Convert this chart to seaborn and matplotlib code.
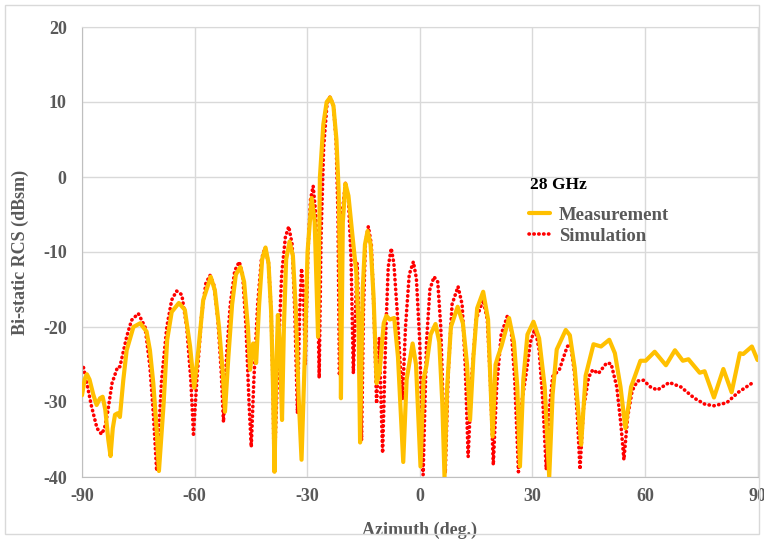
import numpy as np
import pandas as pd
import matplotlib
matplotlib.use("Agg")
import matplotlib.pyplot as plt
import seaborn as sns
from matplotlib.patches import Rectangle

meas_az = [-90.0, -89.3, -88.7, -88.0, -87.0, -86.1, -85.2, -84.5, -83.8, -83.0,
           -82.4, -81.8, -81.2, -80.5, -79.9, -79.0, -78.1, -76.3, -74.5, -72.8,
           -71.9, -71.0, -70.1, -69.5, -68.3, -67.3, -66.1, -64.2, -62.6, -61.2,
           -60.1, -59.0, -57.7, -55.7, -54.6, -53.5, -52.5, -51.9, -51.0, -50.0,
           -49.0, -47.8, -46.8, -45.8, -45.2, -44.4, -43.6, -42.8, -42.0, -41.1,
           -40.3, -39.6, -39.1, -38.7, -38.2, -37.8, -37.3, -36.7, -36.2, -35.6,
           -34.7, -33.8, -33.0, -32.3, -31.5, -30.7, -29.9, -28.8, -28.0, -27.1,
           -26.6, -25.7, -24.8, -23.9, -23.0, -22.2, -21.6, -21.2, -21.0, -20.5,
           -19.8, -19.0, -18.0, -16.9, -16.3, -15.9, -15.2, -14.6, -13.9, -13.1,
           -12.3, -11.5, -10.7, -9.6, -8.9, -8.0, -6.8, -5.8, -4.4, -3.5,
           -1.9, -1.0, 0.2, 1.0, 1.8, 2.9, 4.2, 5.2, 6.0, 6.6,
           7.3, 8.3, 10.1, 11.5, 12.6, 13.4, 14.3, 15.3, 16.9, 18.2,
           19.4, 20.2, 20.8, 21.8, 23.8, 25.1, 26.0, 26.7, 27.6, 28.7,
           30.3, 31.8, 33.3, 34.5, 35.4, 36.5, 38.9, 40.0, 41.3, 43.0,
           44.2, 46.3, 48.3, 50.5, 52.0, 53.5, 54.8, 56.3, 58.8, 60.2,
           62.6, 65.6, 68.0, 70.1, 71.6, 74.6, 75.9, 78.4, 80.9, 83.1,
           85.3, 86.2, 88.5, 90.0]
meas_db = [-29.1, -27.0, -26.3, -27.0, -29.0, -30.4, -29.5, -29.3, -31.0, -35.0,
           -37.2, -33.5, -31.7, -31.5, -32.0, -27.1, -23.1, -20.0, -19.5, -20.6,
           -23.1, -27.5, -33.7, -39.2, -30.6, -21.7, -18.0, -16.8, -17.7, -22.6,
           -28.1, -23.1, -16.4, -13.3, -15.1, -20.0, -26.0, -31.3, -24.0, -17.0,
           -13.0, -12.0, -14.0, -20.0, -25.7, -22.2, -24.8, -17.0, -11.0, -9.4,
           -11.5, -18.0, -28.0, -39.3, -25.0, -18.4, -22.0, -32.4, -20.0, -11.0,
           -8.6, -10.5, -18.0, -29.0, -37.7, -25.0, -10.0, -2.8, -6.0, -21.3,
           0.0, 7.0, 10.0, 10.6, 9.5, 5.0, -2.0, -15.0, -29.5, -6.0,
           -0.9, -2.5, -7.5, -12.8, -20.0, -35.4, -15.0, -9.0, -7.2, -9.0,
           -16.0, -27.5, -26.0, -19.5, -18.5, -19.0, -18.8, -24.0, -38.0, -27.0,
           -22.2, -25.0, -38.6, -27.0, -25.1, -21.0, -19.6, -22.0, -30.0, -40.0,
           -28.0, -20.0, -17.3, -19.5, -25.0, -32.4, -24.0, -17.5, -15.3, -19.0,
           -34.6, -25.0, -24.0, -22.5, -18.8, -22.0, -28.0, -38.6, -27.0, -21.0,
           -19.3, -21.5, -28.0, -40.0, -29.0, -23.0, -20.4, -21.1, -25.5, -35.7,
           -26.5, -22.3, -22.6, -21.7, -23.5, -28.0, -33.5, -28.0, -24.5, -24.5,
           -23.3, -25.1, -23.1, -24.5, -24.3, -26.1, -25.9, -29.4, -25.6, -28.7,
           -23.5, -23.6, -22.6, -24.4]

# Simulation trace
sim_az = [-89.6, -88.7, -87.5, -86.0, -84.8, -84.0, -83.2, -82.0, -80.5, -79.9,
          -78.1, -76.8, -75.0, -73.2, -71.9, -71.0, -70.1, -68.8, -67.4, -66.1,
          -64.8, -63.4, -62.1, -61.0, -60.3, -59.4, -58.1, -57.0, -55.9, -54.8,
          -53.8, -52.9, -52.3, -51.5, -50.5, -49.3, -48.1, -47.2, -46.3, -45.5,
          -44.9, -44.2, -43.2, -42.2, -41.2, -40.3, -39.6, -39.1, -38.8, -37.8,
          -36.8, -35.8, -34.9, -34.0, -33.3, -32.6, -32.0, -31.5, -31.0, -30.5,
          -29.8, -29.1, -28.4, -27.7, -27.2, -26.8, -26.3, -25.6, -24.7, -23.9,
          -23.0, -22.3, -21.8, -21.4, -20.7, -19.8, -19.0, -18.3, -17.7, -16.7,
          -16.1, -15.5, -15.0, -14.5, -13.7, -12.9, -12.2, -11.5, -10.8, -9.9,
          -9.0, -8.4, -7.6, -6.9, -6.0, -5.2, -4.6, -3.8, -2.8, -1.7,
          -0.9, 0.0, 0.9, 1.8, 2.7, 3.8, 4.8, 5.6, 6.2, 6.8,
          7.6, 8.6, 10.2, 11.3, 12.1, 12.9, 13.8, 15.0, 16.9, 18.0,
          18.8, 19.6, 20.5, 21.7, 23.3, 24.4, 25.3, 26.3, 27.2, 28.3,
          29.5, 30.7, 31.8, 32.8, 33.7, 34.5, 35.4, 37.2, 39.3, 40.2,
          41.2, 42.0, 42.7, 43.6, 45.0, 46.1, 47.6, 49.8, 51.0, 52.5,
          53.6, 54.4, 55.4, 56.6, 58.0, 59.6, 61.5, 63.3, 66.5, 69.6,
          73.2, 76.0, 78.4, 81.8, 84.9, 88.5]
sim_db = [-25.4, -27.5, -30.5, -33.5, -34.3, -33.5, -31.5, -27.5, -25.3, -25.3,
          -21.3, -19.1, -18.2, -20.0, -25.3, -31.5, -39.2, -27.1, -20.0, -16.4,
          -15.2, -15.7, -20.0, -27.1, -34.3, -27.1, -18.2, -14.2, -13.1, -14.5,
          -19.0, -26.0, -32.7, -24.0, -17.0, -12.5, -11.3, -13.0, -20.0, -30.0,
          -36.0, -27.0, -17.0, -11.0, -9.4, -11.5, -18.0, -28.0, -39.3, -25.0,
          -13.0, -8.0, -6.6, -9.0, -18.0, -31.5, -18.0, -12.2, -15.0, -25.0,
          -10.0, -3.0, -1.2, -5.0, -15.0, -26.8, -8.0, 4.0, 9.8, 10.7,
          9.5, 5.0, -5.0, -26.5, -5.0, -0.8, -3.0, -11.0, -26.2, -11.5,
          -20.0, -35.1, -18.0, -9.0, -6.6, -9.0, -18.0, -30.2, -21.5, -36.8,
          -20.0, -12.0, -9.5, -11.5, -18.0, -25.0, -29.7, -20.0, -13.0, -11.3,
          -13.5, -22.0, -39.7, -22.0, -15.0, -13.3, -14.0, -20.0, -30.0, -39.5,
          -26.0, -17.0, -14.6, -17.0, -25.0, -37.3, -27.0, -19.0, -16.4, -19.0,
          -27.0, -38.4, -28.0, -21.0, -18.6, -20.5, -27.0, -39.3, -30.0, -26.4,
          -22.0, -20.2, -23.0, -30.0, -39.0, -31.0, -26.6, -25.7, -22.6, -22.3,
          -26.0, -32.0, -39.0, -31.0, -26.7, -25.7, -26.2, -24.8, -24.9, -28.0,
          -33.0, -37.7, -32.0, -28.5, -27.2, -27.1, -28.0, -28.4, -27.4, -28.0,
          -29.5, -30.3, -30.5, -30.1, -28.7, -27.5]

x_ticks = [-90, -60, -30, 0, 30, 60, 90]
y_ticks = [-40, -30, -20, -10, 0, 10, 20]

meas = pd.DataFrame({"az": meas_az, "rcs": meas_db})
sim = pd.DataFrame({"az": sim_az, "rcs": sim_db})

sns.set_style("whitegrid", {"grid.color": "#D9D9D9", "axes.edgecolor": "#D9D9D9"})
plt.rcParams["font.family"] = ["Liberation Serif", "DejaVu Serif"]
plt.rcParams["font.weight"] = "bold"
plt.rcParams["axes.unicode_minus"] = False

fig = plt.figure(figsize=(7.64, 5.39), dpi=100)
ax = fig.add_axes([82 / 764, 1 - 477 / 539, (757.5 - 82) / 764, (477 - 27) / 539])

sns.lineplot(data=meas, x="az", y="rcs", ax=ax, color="#FFC000", linewidth=3.0,
             estimator=None, sort=False, label="Measurement", zorder=3,
             solid_joinstyle="round")
sns.lineplot(data=sim, x="az", y="rcs", ax=ax, color="#FF0000", linewidth=2.6,
             estimator=None, sort=False, label="Simulation", zorder=2,
             linestyle=(0, (0.1, 1.25)), dash_capstyle="round")

ax.set_xlim(-90, 90)
ax.set_ylim(-40, 20)
ax.set_xticks(x_ticks)
ax.set_yticks(y_ticks)
ax.grid(True, color="#D9D9D9", linewidth=1.0)
for side in ["left", "bottom"]:
    ax.spines[side].set_color("#BFBFBF")
for side in ["top", "right"]:
    ax.spines[side].set_color("#D9D9D9")
ax.tick_params(axis="both", length=0, labelsize=13, labelcolor="#595959")
ax.tick_params(axis="y", pad=11)
ax.tick_params(axis="x", pad=8)
for lbl in ax.get_xticklabels() + ax.get_yticklabels():
    lbl.set_fontweight("bold")

ax.set_xlabel("Azimuth (deg.)", fontsize=13, fontweight="bold", color="#595959", labelpad=12)
ax.set_ylabel("Bi-static RCS (dBsm)", fontsize=13, fontweight="bold", color="#595959", labelpad=10)

# legend title drawn as its own text, entries below it
fig.text(530 / 764, 1 - 185 / 539, "28 GHz", fontsize=12.5, fontweight="bold",
         color="black", ha="left", va="center")
leg = ax.legend(loc="upper left", bbox_to_anchor=(512 / 764, 1 - 190 / 539),
                bbox_transform=fig.transFigure, frameon=False,
                handlelength=1.1, handletextpad=0.5,
                labelspacing=0.2, fontsize=13.5)
for t in leg.get_texts():
    t.set_color("#595959")
    t.set_fontweight("bold")

# thin border around the whole chart area
fig.patches.append(Rectangle((5 / 764, 5 / 539), 1 - 10 / 764, 1 - 10 / 539,
                             transform=fig.transFigure, fill=False,
                             edgecolor="#D9D9D9", linewidth=1.0))

fig.savefig("out.png", dpi=100)
